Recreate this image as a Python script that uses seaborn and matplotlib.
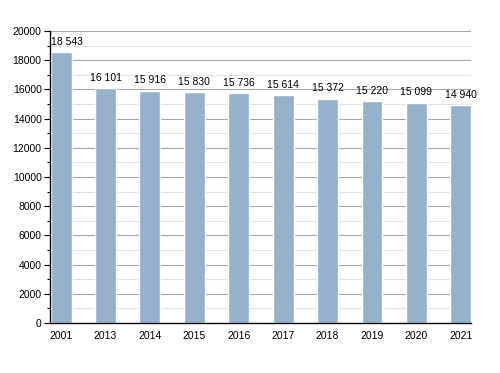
import numpy as np
import pandas as pd
import matplotlib
matplotlib.use("Agg")
import matplotlib.pyplot as plt
import seaborn as sns
from matplotlib.ticker import MultipleLocator

years = ["2001", "2013", "2014", "2015", "2016", "2017", "2018", "2019", "2020", "2021"]
population = [18543, 16101, 15916, 15830, 15736, 15614, 15372, 15220, 15099, 14940]
labels = ["18 543", "16 101", "15 916", "15 830", "15 736",
          "15 614", "15 372", "15 220", "15 099", "14 940"]

df = pd.DataFrame({"year": years, "pop": population})

sns.set_style("white")
plt.rcParams["font.family"] = ["Liberation Sans", "DejaVu Sans"]
plt.rcParams["text.color"] = "black"
plt.rcParams["xtick.color"] = "black"
plt.rcParams["ytick.color"] = "black"

fig = plt.figure(figsize=(5, 3.73), dpi=100)
ax = fig.add_axes([0.1, 0.134, 0.842, 0.783])

sns.barplot(data=df, x="year", y="pop", color="#97b0cc", saturation=1,
            width=0.47, ax=ax)
for p in ax.patches:
    p.set_zorder(3)

for i, (v, t) in enumerate(zip(population, labels)):
    if i == 0:
        # first label is nudged right of the axis line, as in the source
        ax.text(i - 0.235, v + 350, t, ha="left", va="bottom", fontsize=7.5, zorder=4)
    else:
        ax.text(i, v + 350, t, ha="center", va="bottom", fontsize=7.5, zorder=4)

ax.set_ylim(0, 20000)
ax.set_xlim(-0.25, 9.23)
ax.yaxis.set_major_locator(MultipleLocator(2000))
ax.yaxis.set_minor_locator(MultipleLocator(1000))
ax.set_axisbelow(True)
ax.grid(axis="y", which="major", color="#a8a8a8", linewidth=0.8, zorder=0)
ax.grid(axis="y", which="minor", color="#e2e2e2", linewidth=0.8, zorder=0)

for s in ["top", "right"]:
    ax.spines[s].set_visible(False)
for s in ["left", "bottom"]:
    ax.spines[s].set_color("black")
    ax.spines[s].set_linewidth(1.0)
    ax.spines[s].set_zorder(5)

ax.tick_params(axis="y", which="major", left=True, length=4, width=0.8, labelsize=7.5, pad=2)
ax.tick_params(axis="y", which="minor", left=True, length=2, width=0.8)
ax.tick_params(axis="x", bottom=False, labelsize=7.5, pad=2)
ax.set_xlabel("")
ax.set_ylabel("")

fig.savefig("out.png", dpi=100)
